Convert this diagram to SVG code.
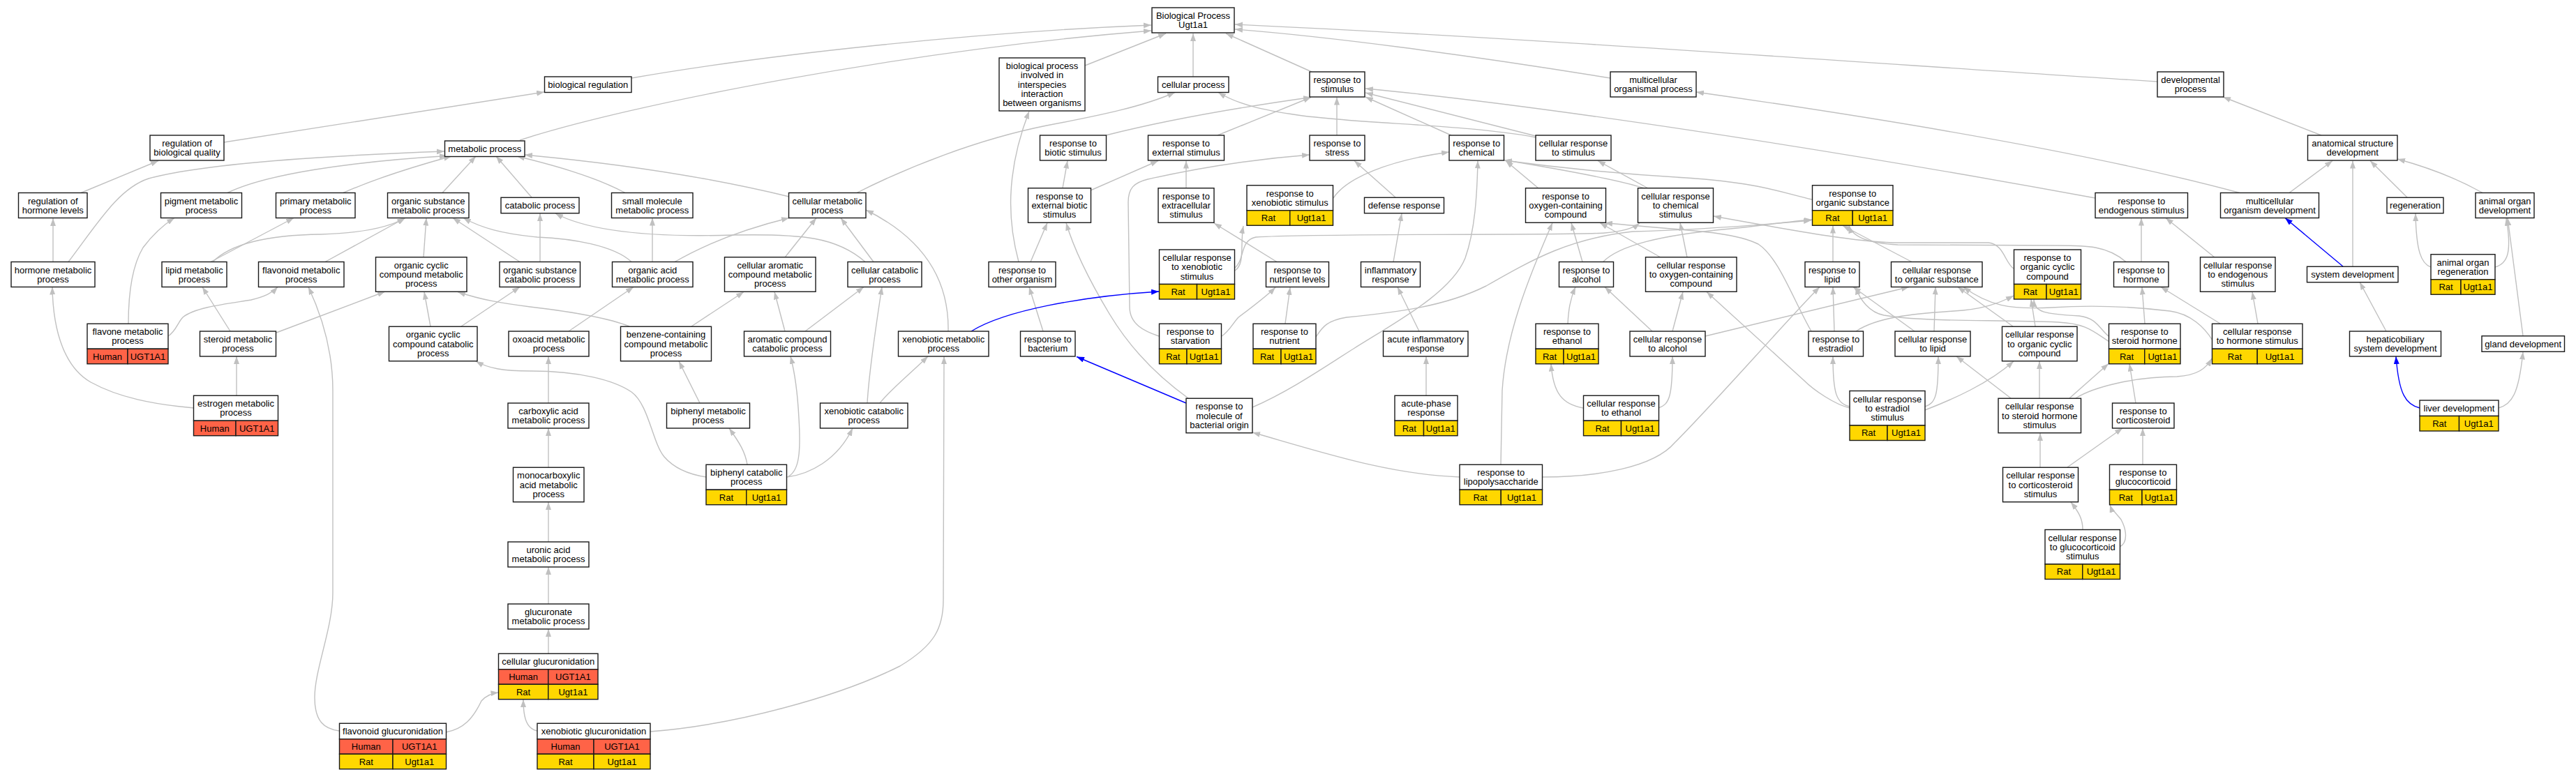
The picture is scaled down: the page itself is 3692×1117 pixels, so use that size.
<svg xmlns="http://www.w3.org/2000/svg" width="3692" height="1117" viewBox="0 0 3692 1117">
<defs>
<marker id="ag" viewBox="0 0 11 8" refX="11" refY="4" markerWidth="11" markerHeight="8" markerUnits="userSpaceOnUse" orient="auto"><path d="M0,0L11,4L0,8z" fill="#c0c0c0"/></marker>
<marker id="ab" viewBox="0 0 11 8" refX="11" refY="4" markerWidth="11" markerHeight="8" markerUnits="userSpaceOnUse" orient="auto"><path d="M0,0L11,4L0,8z" fill="#0000ff"/></marker>
</defs>
<style>
.e{fill:none;stroke:#c0c0c0;stroke-width:1.4;marker-end:url(#ag)}
.b{fill:none;stroke:#0000ff;stroke-width:1.4;marker-end:url(#ab)}
rect{stroke:#1a1a1a;stroke-width:1.4}
.w{fill:#fff}
.h{fill:#ff6347}
.r{fill:#ffd700}
text{font-family:"Liberation Sans",Arial,Helvetica,sans-serif;font-size:13px;text-anchor:middle;fill:#000}
</style>
<rect x="0" y="0" width="3692" height="1117" fill="#fff" style="stroke:none"/>
<g id="connectors">
<path class="e" d="M905,112 C1100,78 1400,46 1650,36"/>
<path class="e" d="M745,201 C900,150 1300,72 1650,44"/>
<path class="e" d="M1555,94 L1671,48"/>
<path class="e" d="M1710,110 L1710,48"/>
<path class="e" d="M1880,103 L1757,48"/>
<path class="e" d="M2308,112 C2100,78 1900,52 1770,42"/>
<path class="e" d="M3092,117 C2700,92 2200,55 1770,35"/>
<path class="e" d="M321,204 L780,132"/>
<path class="e" d="M116,276.5 L227,230.5"/>
<path class="e" d="M76,375.5 L76,313"/>
<path class="e" d="M98,375.5 C140,320 170,270 213,256 C300,232 500,222 637,217"/>
<path class="e" d="M326,276.5 C380,250 500,232 641,223.5"/>
<path class="e" d="M492,276.5 C540,255 600,237 647,224"/>
<path class="e" d="M634,276.5 L682,224"/>
<path class="e" d="M762,283 L711,224"/>
<path class="e" d="M896,276.5 C850,252 790,236 741,224"/>
<path class="e" d="M1131,282 C1000,250 860,232 752,222"/>
<path class="e" d="M1228,276.5 C1300,240 1400,200 1500,180 C1580,165 1640,152 1684,132.5"/>
<path class="e" d="M1585,194 C1680,170 1790,152 1879,139.5"/>
<path class="e" d="M1745,194 C1790,176 1840,155 1879,139.5"/>
<path class="e" d="M1916,194 L1916,139.5"/>
<path class="e" d="M2080,194 L1957,139"/>
<path class="e" d="M2201,195 L1957,133"/>
<path class="e" d="M3003,284 C2600,210 2200,150 1957,127"/>
<path class="e" d="M2201,197 C2100,178 1950,178 1860,165 C1810,158 1775,150 1746,132.5"/>
<path class="e" d="M1911,284 C1930,255 1990,230 2077,218"/>
<path class="e" d="M1795,584 C1850,560 1900,525 1940,500 C2000,462 2080,420 2100,370 C2114,330 2117,280 2118,230.5"/>
<path class="e" d="M1886,483 C1895,470 1900,460 1930,455 C2000,448 2070,440 2130,410 C2200,370 2250,342 2340,332 C2420,330 2530,322 2596,316"/>
<path class="e" d="M1769,385 C1785,372 1776,345 1800,340 C1900,334 2250,338 2300,334 C2325,332 2340,328 2350,320"/>
<path class="e" d="M1770,388 C1785,378 1777,350 1782,324"/>
<path class="e" d="M1830,375.5 L1740,320"/>
<path class="e" d="M1751,482 C1762,475 1768,462 1775,455 C1795,440 1815,425 1828,412"/>
<path class="e" d="M1842,464 L1849,412"/>
<path class="e" d="M1661,482 C1640,475 1619,465 1619,440 L1617,290 C1617,270 1625,262 1645,257 C1720,240 1800,228 1877,222"/>
<path class="e" d="M1523,269.5 L1530,230.5"/>
<path class="e" d="M1563,273 L1660,230.5"/>
<path class="e" d="M1700,269.5 L1700,230.5"/>
<path class="e" d="M1477,375.5 L1501,319.5"/>
<path class="e" d="M1460,375.5 C1445,320 1440,250 1475,159.5"/>
<path class="e" d="M1495,475 L1475,411.5"/>
<path class="b" d="M1700,578 L1543,511.5"/>
<path class="e" d="M1703,571 C1660,540 1620,500 1590,450 C1560,400 1540,360 1528,319.5"/>
<path class="e" d="M2092,684 C1990,680 1900,650 1795,620"/>
<path class="b" d="M1392,475 C1440,445 1550,425 1661,418"/>
<path class="e" d="M2151,666 L2153,560 C2158,480 2190,400 2225,319.5"/>
<path class="e" d="M2211,684 C2290,684 2370,670 2400,635 C2460,575 2560,460 2608,411.5"/>
<path class="e" d="M2044,567 L2044,511"/>
<path class="e" d="M2034,475 L2003,411.5"/>
<path class="e" d="M1997,375.5 L2009,306"/>
<path class="e" d="M2000,283 L1941,230.5"/>
<path class="e" d="M2205,270 L2158,230.5"/>
<path class="e" d="M2357,270 C2320,258 2250,245 2156,229.5"/>
<path class="e" d="M2362,270 L2290,230.5"/>
<path class="e" d="M2597,286 C2550,275 2520,262 2417,255 C2330,250 2230,240 2156,230"/>
<path class="e" d="M2268,375.5 L2252,319.5"/>
<path class="e" d="M2297,376 C2320,352 2380,337 2480,328 C2530,323 2560,318 2597,315"/>
<path class="e" d="M2380,369 L2293,319.5"/>
<path class="e" d="M2418,369 L2408,319.5"/>
<path class="e" d="M2596,475 C2570,430 2550,370 2520,350 C2480,330 2400,330 2300,319.5"/>
<path class="e" d="M2368,475 L2300,411.5"/>
<path class="e" d="M2397,475 L2412,418.5"/>
<path class="e" d="M2444,482 L2736,411.5"/>
<path class="e" d="M2247,464 C2248,445 2250,430 2258,411.5"/>
<path class="e" d="M2269,585 C2240,580 2226,565 2223,521.5"/>
<path class="e" d="M2377,585 C2392,580 2397,570 2397,511"/>
<path class="e" d="M2651,585 C2630,580 2600,560 2585,545 L2446,418.5"/>
<path class="e" d="M2651,583 C2632,578 2627,565 2627,511"/>
<path class="e" d="M2759,583 C2775,578 2778,565 2778,511"/>
<path class="e" d="M2759,588 C2800,572 2850,550 2886,518"/>
<path class="e" d="M2629,475 L2627,411.5"/>
<path class="e" d="M2660,475 C2690,455 2740,450 2800,446 C2840,444 2865,435 2886,424"/>
<path class="e" d="M2744,475 L2656,411.5"/>
<path class="e" d="M2772,475 L2774,411.5"/>
<path class="e" d="M2885,468 L2806,411.5"/>
<path class="e" d="M2917,468 L2911,429"/>
<path class="e" d="M2627,375.5 L2627,323.5"/>
<path class="e" d="M2740,375.5 L2641,323.5"/>
<path class="e" d="M2886,385 C2874,378 2872,350 2850,348 L2713,348 C2660,346 2600,336 2456,310"/>
<path class="e" d="M3069,375.5 L3069,312.5"/>
<path class="e" d="M3047,375.5 C3020,352 2990,352 2950,352 L2720,351 C2680,349 2655,340 2650,323.5"/>
<path class="e" d="M3174,369 L3104,312.5"/>
<path class="e" d="M3236,464 L3228,418.5"/>
<path class="e" d="M3182,464 L3097,411.5"/>
<path class="e" d="M3171,488 C3160,470 3140,450 3110,446 C3060,440 3000,437 2940,441 C2880,444 2850,438 2814,411.5"/>
<path class="e" d="M3074,464 L3070,411.5"/>
<path class="e" d="M3022,482 C3008,470 3005,456 2980,453 C2930,450 2916,448 2915,429.5"/>
<path class="e" d="M3023,490 C3000,475 2990,464 2950,462 C2850,458 2760,462 2700,452 C2680,448 2665,430 2660,411.5"/>
<path class="e" d="M3061,578 L3052,521.5"/>
<path class="e" d="M2966,571 L3022,521.5"/>
<path class="e" d="M2923,571 L2923,518"/>
<path class="e" d="M2882,571 L2804,511"/>
<path class="e" d="M2975,571 C3000,555 3060,540 3120,540 C3150,538 3162,528 3170,514"/>
<path class="e" d="M2924,670 L2924,621"/>
<path class="e" d="M2963,670 L3042,614"/>
<path class="e" d="M3071,666 L3071,614"/>
<path class="e" d="M2985,759 C2985,745 2980,735 2968,720"/>
<path class="e" d="M3038,784 C3050,778 3048,760 3040,745 C3032,735 3026,730 3024,724"/>
<path class="e" d="M3327,194 L3186,139"/>
<path class="e" d="M3281,276.5 L3343,230.5"/>
<path class="e" d="M3210,276.5 C3000,220 2700,170 2431,132"/>
<path class="e" d="M3450,283 L3397,230.5"/>
<path class="e" d="M3558,276.5 C3520,255 3480,240 3436,228"/>
<path class="e" d="M3372,382 L3372,230.5"/>
<path class="b" d="M3358,382 L3275,312.5"/>
<path class="e" d="M3484,383 C3470,378 3463,360 3462,306"/>
<path class="e" d="M3576,383 C3595,378 3600,360 3592,312.5"/>
<path class="e" d="M3420,475 L3382,404.5"/>
<path class="e" d="M3616,481.5 L3594,312.5"/>
<path class="b" d="M3468,585 C3448,580 3438,565 3434,511"/>
<path class="e" d="M3581,585 C3600,580 3610,565 3616,504.5"/>
<path class="e" d="M302,375.5 L421,312.5"/>
<path class="e" d="M305,375.5 C330,350 380,337 460,336 C520,334 560,325 580,312.5"/>
<path class="e" d="M466,375.5 L581,312.5"/>
<path class="e" d="M607,369 L611,312.5"/>
<path class="e" d="M745,375.5 L649,312.5"/>
<path class="e" d="M774,375.5 L774,306"/>
<path class="e" d="M905,375.5 C880,352 820,342 770,340 C720,335 690,327 664,312.5"/>
<path class="e" d="M935,375.5 L935,312.5"/>
<path class="e" d="M967,375.5 C1020,345 1080,325 1131,312.5"/>
<path class="e" d="M1125,369 L1170,312.5"/>
<path class="e" d="M1252,375.5 L1205,312.5"/>
<path class="e" d="M1240,375.5 C1200,340 1150,335 1050,337 C950,340 850,335 796,306"/>
<path class="e" d="M1359,475 C1360,420 1340,350 1241,301"/>
<path class="e" d="M330,475 L290,411.5"/>
<path class="e" d="M396,477 L552,418"/>
<path class="e" d="M617,468 L608,418.5"/>
<path class="e" d="M661,468 L745,411.5"/>
<path class="e" d="M815,475 L908,411.5"/>
<path class="e" d="M902,468 C870,455 820,447 760,440 C720,435 690,430 656,418.5"/>
<path class="e" d="M991,468 L1066,418.5"/>
<path class="e" d="M1125,475 L1110,418.5"/>
<path class="e" d="M1154,475 L1238,411.5"/>
<path class="e" d="M184,464 C184,420 190,380 205,355 C220,335 235,322 250,312.5"/>
<path class="e" d="M241,482 C252,475 255,462 262,455 C280,440 330,435 360,430 C380,425 390,420 398,411.5"/>
<path class="e" d="M278,585 C220,580 170,570 130,548 C95,528 76,480 75,411.5"/>
<path class="e" d="M339,567 L339,511"/>
<path class="e" d="M786,578 L786,511"/>
<path class="e" d="M786,670 L786,614"/>
<path class="e" d="M786,777 L786,720"/>
<path class="e" d="M786,866 L786,813"/>
<path class="e" d="M786,937 L786,902"/>
<path class="e" d="M639,1050 C665,1045 678,1030 690,1005 C697,997 705,994 714.5,993"/>
<path class="e" d="M770,1048 C755,1045 750,1030 750,1003"/>
<path class="e" d="M486,1048 C465,1045 451,1035 451,1000 C451,960 477,900 477,850 L477,560 C477,500 460,450 442,411.5"/>
<path class="e" d="M932,1049 C1050,1040 1200,1000 1290,955 C1340,925 1352,900 1352,860 L1353,511"/>
<path class="e" d="M1003,578 L973,518"/>
<path class="e" d="M1071,666 C1068,648 1060,635 1045,614"/>
<path class="e" d="M1128,684 C1160,680 1200,660 1222,614"/>
<path class="e" d="M1130,683 C1145,675 1148,650 1145,600 C1143,560 1138,530 1133,511"/>
<path class="e" d="M1012,684 C985,680 965,670 952,655 C935,635 930,580 905,562 C880,545 830,532 760,532 C720,532 700,528 682,518"/>
<path class="e" d="M1243,578 C1245,540 1255,470 1264,411.5"/>
<path class="e" d="M1261,578 C1275,560 1300,540 1330,511"/>
</g>
<g id="root"><rect class="w" x="1651" y="11" width="118" height="36"/><text x="1710" y="27">Biological Process</text><text x="1710" y="40.2">Ugt1a1</text></g>
<g id="bioreg"><rect class="w" x="780.5" y="110" width="124.5" height="22.5"/><text x="842.75" y="125.8">biological regulation</text></g>
<g id="interspecies"><rect class="w" x="1432" y="83" width="123" height="76"/><text x="1493.5" y="99.2">biological process</text><text x="1493.5" y="112.4">involved in</text><text x="1493.5" y="125.6">interspecies</text><text x="1493.5" y="138.8">interaction</text><text x="1493.5" y="152">between organisms</text></g>
<g id="cellproc"><rect class="w" x="1659.5" y="110" width="101.5" height="22.5"/><text x="1710.25" y="125.8">cellular process</text></g>
<g id="respstim"><rect class="w" x="1877" y="103" width="79" height="36"/><text x="1916.5" y="119">response to</text><text x="1916.5" y="132.2">stimulus</text></g>
<g id="multiorg"><rect class="w" x="2308" y="103" width="123" height="36"/><text x="2369.5" y="119">multicellular</text><text x="2369.5" y="132.2">organismal process</text></g>
<g id="devproc"><rect class="w" x="3092" y="103" width="95" height="36"/><text x="3139.5" y="119">developmental</text><text x="3139.5" y="132.2">process</text></g>
<g id="regbioq"><rect class="w" x="215" y="194" width="106" height="36"/><text x="268" y="210">regulation of</text><text x="268" y="223.2">biological quality</text></g>
<g id="metab"><rect class="w" x="637.5" y="202" width="114.5" height="22.5"/><text x="694.75" y="217.8">metabolic process</text></g>
<g id="respbiotic"><rect class="w" x="1490.5" y="194" width="95" height="36"/><text x="1538" y="210">response to</text><text x="1538" y="223.2">biotic stimulus</text></g>
<g id="respext"><rect class="w" x="1645.5" y="194" width="109" height="36"/><text x="1700" y="210">response to</text><text x="1700" y="223.2">external stimulus</text></g>
<g id="respstress"><rect class="w" x="1877" y="194" width="79" height="36"/><text x="1916.5" y="210">response to</text><text x="1916.5" y="223.2">stress</text></g>
<g id="respchem"><rect class="w" x="2077" y="194" width="78.5" height="36"/><text x="2116.25" y="210">response to</text><text x="2116.25" y="223.2">chemical</text></g>
<g id="cellrespstim"><rect class="w" x="2201" y="194" width="108" height="36"/><text x="2255" y="210">cellular response</text><text x="2255" y="223.2">to stimulus</text></g>
<g id="anatdev"><rect class="w" x="3307.5" y="194" width="128.5" height="36"/><text x="3371.75" y="210">anatomical structure</text><text x="3371.75" y="223.2">development</text></g>
<g id="reghorm"><rect class="w" x="26.5" y="276.5" width="98.5" height="36"/><text x="75.75" y="292.5">regulation of</text><text x="75.75" y="305.7">hormone levels</text></g>
<g id="pigment"><rect class="w" x="230.5" y="276.5" width="116" height="36"/><text x="288.5" y="292.5">pigment metabolic</text><text x="288.5" y="305.7">process</text></g>
<g id="primary"><rect class="w" x="395.5" y="276.5" width="113.5" height="36"/><text x="452.25" y="292.5">primary metabolic</text><text x="452.25" y="305.7">process</text></g>
<g id="orgsubmet"><rect class="w" x="555.5" y="276.5" width="116.5" height="36"/><text x="613.75" y="292.5">organic substance</text><text x="613.75" y="305.7">metabolic process</text></g>
<g id="catab"><rect class="w" x="718" y="283.25" width="112" height="22.5"/><text x="774" y="299.1">catabolic process</text></g>
<g id="smallmol"><rect class="w" x="876.5" y="276.5" width="116.5" height="36"/><text x="934.75" y="292.5">small molecule</text><text x="934.75" y="305.7">metabolic process</text></g>
<g id="cellmet"><rect class="w" x="1130.5" y="276.5" width="110.5" height="36"/><text x="1185.75" y="292.5">cellular metabolic</text><text x="1185.75" y="305.7">process</text></g>
<g id="respextbiotic"><rect class="w" x="1473.5" y="269.75" width="90" height="49.5"/><text x="1518.5" y="285.9">response to</text><text x="1518.5" y="299.1">external biotic</text><text x="1518.5" y="312.3">stimulus</text></g>
<g id="respextracell"><rect class="w" x="1660" y="269.75" width="80" height="49.5"/><text x="1700" y="285.9">response to</text><text x="1700" y="299.1">extracellular</text><text x="1700" y="312.3">stimulus</text></g>
<g id="respxeno"><rect class="w" x="1787" y="265.75" width="123.5" height="36"/><text x="1848.75" y="281.75">response to</text><text x="1848.75" y="294.95">xenobiotic stimulus</text><rect class="r" x="1787" y="301.75" width="61.75" height="21.5"/><rect class="r" x="1848.75" y="301.75" width="61.75" height="21.5"/><text x="1817.9" y="317.1">Rat</text><text x="1879.6" y="317.1">Ugt1a1</text></g>
<g id="defense"><rect class="w" x="1955.5" y="283.25" width="114" height="22.5"/><text x="2012.5" y="299.1">defense response</text></g>
<g id="respoxy"><rect class="w" x="2186.5" y="269.75" width="115" height="49.5"/><text x="2244" y="285.9">response to</text><text x="2244" y="299.1">oxygen-containing</text><text x="2244" y="312.3">compound</text></g>
<g id="cellrespchem"><rect class="w" x="2347.5" y="269.75" width="108" height="49.5"/><text x="2401.5" y="285.9">cellular response</text><text x="2401.5" y="299.1">to chemical</text><text x="2401.5" y="312.3">stimulus</text></g>
<g id="resporgsub"><rect class="w" x="2597.5" y="265.75" width="115.5" height="36"/><text x="2655.25" y="281.75">response to</text><text x="2655.25" y="294.95">organic substance</text><rect class="r" x="2597.5" y="301.75" width="57.75" height="21.5"/><rect class="r" x="2655.25" y="301.75" width="57.75" height="21.5"/><text x="2626.4" y="317.1">Rat</text><text x="2684.1" y="317.1">Ugt1a1</text></g>
<g id="respendo"><rect class="w" x="3003" y="276.5" width="132.5" height="36"/><text x="3069.25" y="292.5">response to</text><text x="3069.25" y="305.7">endogenous stimulus</text></g>
<g id="multidev"><rect class="w" x="3182.5" y="276.5" width="141" height="36"/><text x="3253" y="292.5">multicellular</text><text x="3253" y="305.7">organism development</text></g>
<g id="regen"><rect class="w" x="3421" y="283.25" width="81" height="22.5"/><text x="3461.5" y="299.1">regeneration</text></g>
<g id="animorgdev"><rect class="w" x="3548" y="276.5" width="84" height="36"/><text x="3590" y="292.5">animal organ</text><text x="3590" y="305.7">development</text></g>
<g id="hormmet"><rect class="w" x="16" y="375.5" width="120" height="36"/><text x="76" y="391.5">hormone metabolic</text><text x="76" y="404.7">process</text></g>
<g id="lipidmet"><rect class="w" x="232" y="375.5" width="93" height="36"/><text x="278.5" y="391.5">lipid metabolic</text><text x="278.5" y="404.7">process</text></g>
<g id="flavmet"><rect class="w" x="370.5" y="375.5" width="122.5" height="36"/><text x="431.75" y="391.5">flavonoid metabolic</text><text x="431.75" y="404.7">process</text></g>
<g id="orgcycmet"><rect class="w" x="538.5" y="368.75" width="130.5" height="49.5"/><text x="603.75" y="384.9">organic cyclic</text><text x="603.75" y="398.1">compound metabolic</text><text x="603.75" y="411.3">process</text></g>
<g id="orgsubcat"><rect class="w" x="716" y="375.5" width="115.5" height="36"/><text x="773.75" y="391.5">organic substance</text><text x="773.75" y="404.7">catabolic process</text></g>
<g id="orgacid"><rect class="w" x="877.5" y="375.5" width="115.5" height="36"/><text x="935.25" y="391.5">organic acid</text><text x="935.25" y="404.7">metabolic process</text></g>
<g id="cellarom"><rect class="w" x="1038.5" y="368.75" width="130.5" height="49.5"/><text x="1103.75" y="384.9">cellular aromatic</text><text x="1103.75" y="398.1">compound metabolic</text><text x="1103.75" y="411.3">process</text></g>
<g id="cellcat"><rect class="w" x="1215" y="375.5" width="106" height="36"/><text x="1268" y="391.5">cellular catabolic</text><text x="1268" y="404.7">process</text></g>
<g id="respother"><rect class="w" x="1417" y="375.5" width="96" height="36"/><text x="1465" y="391.5">response to</text><text x="1465" y="404.7">other organism</text></g>
<g id="cellrespxeno"><rect class="w" x="1661.5" y="358" width="108" height="49.5"/><text x="1715.5" y="374.15">cellular response</text><text x="1715.5" y="387.35">to xenobiotic</text><text x="1715.5" y="400.55">stimulus</text><rect class="r" x="1661.5" y="407.5" width="54" height="21.5"/><rect class="r" x="1715.5" y="407.5" width="54" height="21.5"/><text x="1688.5" y="422.85">Rat</text><text x="1742.5" y="422.85">Ugt1a1</text></g>
<g id="respnutlev"><rect class="w" x="1814.5" y="375.5" width="90" height="36"/><text x="1859.5" y="391.5">response to</text><text x="1859.5" y="404.7">nutrient levels</text></g>
<g id="inflam"><rect class="w" x="1950.5" y="375.5" width="85" height="36"/><text x="1993" y="391.5">inflammatory</text><text x="1993" y="404.7">response</text></g>
<g id="respalc"><rect class="w" x="2234.5" y="375.5" width="78" height="36"/><text x="2273.5" y="391.5">response to</text><text x="2273.5" y="404.7">alcohol</text></g>
<g id="cellrespoxy"><rect class="w" x="2358.5" y="368.75" width="130.5" height="49.5"/><text x="2423.75" y="384.9">cellular response</text><text x="2423.75" y="398.1">to oxygen-containing</text><text x="2423.75" y="411.3">compound</text></g>
<g id="resplipid"><rect class="w" x="2587" y="375.5" width="78" height="36"/><text x="2626" y="391.5">response to</text><text x="2626" y="404.7">lipid</text></g>
<g id="cellresporgsub"><rect class="w" x="2710.5" y="375.5" width="130.5" height="36"/><text x="2775.75" y="391.5">cellular response</text><text x="2775.75" y="404.7">to organic substance</text></g>
<g id="resporgcyc"><rect class="w" x="2886.5" y="358" width="96" height="49.5"/><text x="2934.5" y="374.15">response to</text><text x="2934.5" y="387.35">organic cyclic</text><text x="2934.5" y="400.55">compound</text><rect class="r" x="2886.5" y="407.5" width="46.5" height="21.5"/><rect class="r" x="2933" y="407.5" width="49.5" height="21.5"/><text x="2909.75" y="422.85">Rat</text><text x="2957.75" y="422.85">Ugt1a1</text></g>
<g id="resphorm"><rect class="w" x="3029.5" y="375.5" width="78.5" height="36"/><text x="3068.75" y="391.5">response to</text><text x="3068.75" y="404.7">hormone</text></g>
<g id="cellrespendo"><rect class="w" x="3153.5" y="368.75" width="107.5" height="49.5"/><text x="3207.25" y="384.9">cellular response</text><text x="3207.25" y="398.1">to endogenous</text><text x="3207.25" y="411.3">stimulus</text></g>
<g id="sysdev"><rect class="w" x="3306.5" y="382.25" width="130.5" height="22.5"/><text x="3371.75" y="398.1">system development</text></g>
<g id="animorgregen"><rect class="w" x="3484" y="364.75" width="92" height="36"/><text x="3530" y="380.75">animal organ</text><text x="3530" y="393.95">regeneration</text><rect class="r" x="3484" y="400.75" width="43" height="21.5"/><rect class="r" x="3527" y="400.75" width="49" height="21.5"/><text x="3505.5" y="416.1">Rat</text><text x="3551.5" y="416.1">Ugt1a1</text></g>
<g id="flavone"><rect class="w" x="125" y="464.25" width="116" height="36"/><text x="183" y="480.25">flavone metabolic</text><text x="183" y="493.45">process</text><rect class="h" x="125" y="500.25" width="58" height="21.5"/><rect class="h" x="183" y="500.25" width="58" height="21.5"/><text x="154" y="515.6">Human</text><text x="212" y="515.6">UGT1A1</text></g>
<g id="steroid"><rect class="w" x="286.5" y="475" width="109" height="36"/><text x="341" y="491">steroid metabolic</text><text x="341" y="504.2">process</text></g>
<g id="orgcyccat"><rect class="w" x="557.5" y="468.25" width="126.5" height="49.5"/><text x="620.75" y="484.4">organic cyclic</text><text x="620.75" y="497.6">compound catabolic</text><text x="620.75" y="510.8">process</text></g>
<g id="oxoacid"><rect class="w" x="729" y="475" width="115" height="36"/><text x="786.5" y="491">oxoacid metabolic</text><text x="786.5" y="504.2">process</text></g>
<g id="benzene"><rect class="w" x="889.5" y="468.25" width="130" height="49.5"/><text x="954.5" y="484.4">benzene-containing</text><text x="954.5" y="497.6">compound metabolic</text><text x="954.5" y="510.8">process</text></g>
<g id="aromcat"><rect class="w" x="1066.5" y="475" width="124" height="36"/><text x="1128.5" y="491">aromatic compound</text><text x="1128.5" y="504.2">catabolic process</text></g>
<g id="xenomet"><rect class="w" x="1287.5" y="475" width="129.5" height="36"/><text x="1352.25" y="491">xenobiotic metabolic</text><text x="1352.25" y="504.2">process</text></g>
<g id="respbact"><rect class="w" x="1462.5" y="475" width="78.5" height="36"/><text x="1501.75" y="491">response to</text><text x="1501.75" y="504.2">bacterium</text></g>
<g id="respstarv"><rect class="w" x="1661.5" y="464.25" width="89" height="36"/><text x="1706" y="480.25">response to</text><text x="1706" y="493.45">starvation</text><rect class="r" x="1661.5" y="500.25" width="39.5" height="21.5"/><rect class="r" x="1701" y="500.25" width="49.5" height="21.5"/><text x="1681.25" y="515.6">Rat</text><text x="1725.75" y="515.6">Ugt1a1</text></g>
<g id="respnut"><rect class="w" x="1796" y="464.25" width="90" height="36"/><text x="1841" y="480.25">response to</text><text x="1841" y="493.45">nutrient</text><rect class="r" x="1796" y="500.25" width="40" height="21.5"/><rect class="r" x="1836" y="500.25" width="50" height="21.5"/><text x="1816" y="515.6">Rat</text><text x="1861" y="515.6">Ugt1a1</text></g>
<g id="acuteinflam"><rect class="w" x="1982.5" y="475" width="121.5" height="36"/><text x="2043.25" y="491">acute inflammatory</text><text x="2043.25" y="504.2">response</text></g>
<g id="respethanol"><rect class="w" x="2201" y="464.25" width="90" height="36"/><text x="2246" y="480.25">response to</text><text x="2246" y="493.45">ethanol</text><rect class="r" x="2201" y="500.25" width="40" height="21.5"/><rect class="r" x="2241" y="500.25" width="50" height="21.5"/><text x="2221" y="515.6">Rat</text><text x="2266" y="515.6">Ugt1a1</text></g>
<g id="cellrespalc"><rect class="w" x="2336" y="475" width="108" height="36"/><text x="2390" y="491">cellular response</text><text x="2390" y="504.2">to alcohol</text></g>
<g id="respestradiol"><rect class="w" x="2592" y="475" width="78.5" height="36"/><text x="2631.25" y="491">response to</text><text x="2631.25" y="504.2">estradiol</text></g>
<g id="cellresplipid"><rect class="w" x="2716" y="475" width="108" height="36"/><text x="2770" y="491">cellular response</text><text x="2770" y="504.2">to lipid</text></g>
<g id="cellresporgcyc"><rect class="w" x="2869.5" y="468.25" width="107.5" height="49.5"/><text x="2923.25" y="484.4">cellular response</text><text x="2923.25" y="497.6">to organic cyclic</text><text x="2923.25" y="510.8">compound</text></g>
<g id="respsteroid"><rect class="w" x="3022.5" y="464.25" width="102.5" height="36"/><text x="3073.75" y="480.25">response to</text><text x="3073.75" y="493.45">steroid hormone</text><rect class="r" x="3022.5" y="500.25" width="51.25" height="21.5"/><rect class="r" x="3073.75" y="500.25" width="51.25" height="21.5"/><text x="3048.1" y="515.6">Rat</text><text x="3099.4" y="515.6">Ugt1a1</text></g>
<g id="cellresphorm"><rect class="w" x="3170.5" y="464.25" width="129.5" height="36"/><text x="3235.25" y="480.25">cellular response</text><text x="3235.25" y="493.45">to hormone stimulus</text><rect class="r" x="3170.5" y="500.25" width="64.75" height="21.5"/><rect class="r" x="3235.25" y="500.25" width="64.75" height="21.5"/><text x="3202.9" y="515.6">Rat</text><text x="3267.6" y="515.6">Ugt1a1</text></g>
<g id="hepato"><rect class="w" x="3367.5" y="475" width="131" height="36"/><text x="3433" y="491">hepaticobiliary</text><text x="3433" y="504.2">system development</text></g>
<g id="glanddev"><rect class="w" x="3557" y="481.75" width="118.5" height="22.5"/><text x="3616.25" y="497.6">gland development</text></g>
<g id="estrogen"><rect class="w" x="277.5" y="567.25" width="121" height="36"/><text x="338" y="583.25">estrogen metabolic</text><text x="338" y="596.45">process</text><rect class="h" x="277.5" y="603.25" width="60.5" height="21.5"/><rect class="h" x="338" y="603.25" width="60.5" height="21.5"/><text x="307.75" y="618.6">Human</text><text x="368.25" y="618.6">UGT1A1</text></g>
<g id="carbox"><rect class="w" x="728" y="578" width="116" height="36"/><text x="786" y="594">carboxylic acid</text><text x="786" y="607.2">metabolic process</text></g>
<g id="biphenylmet"><rect class="w" x="955.5" y="578" width="119" height="36"/><text x="1015" y="594">biphenyl metabolic</text><text x="1015" y="607.2">process</text></g>
<g id="xenocat"><rect class="w" x="1175.5" y="578" width="125.5" height="36"/><text x="1238.25" y="594">xenobiotic catabolic</text><text x="1238.25" y="607.2">process</text></g>
<g id="molbact"><rect class="w" x="1700" y="571.25" width="95" height="49.5"/><text x="1747.5" y="587.4">response to</text><text x="1747.5" y="600.6">molecule of</text><text x="1747.5" y="613.8">bacterial origin</text></g>
<g id="acutephase"><rect class="w" x="1999" y="567.25" width="90" height="36"/><text x="2044" y="583.25">acute-phase</text><text x="2044" y="596.45">response</text><rect class="r" x="1999" y="603.25" width="41.5" height="21.5"/><rect class="r" x="2040.5" y="603.25" width="48.5" height="21.5"/><text x="2019.75" y="618.6">Rat</text><text x="2064.75" y="618.6">Ugt1a1</text></g>
<g id="cellrespethanol"><rect class="w" x="2269.5" y="567.25" width="108" height="36"/><text x="2323.5" y="583.25">cellular response</text><text x="2323.5" y="596.45">to ethanol</text><rect class="r" x="2269.5" y="603.25" width="54" height="21.5"/><rect class="r" x="2323.5" y="603.25" width="54" height="21.5"/><text x="2296.5" y="618.6">Rat</text><text x="2350.5" y="618.6">Ugt1a1</text></g>
<g id="cellrespestradiol"><rect class="w" x="2651" y="560.5" width="108" height="49.5"/><text x="2705" y="576.65">cellular response</text><text x="2705" y="589.85">to estradiol</text><text x="2705" y="603.05">stimulus</text><rect class="r" x="2651" y="610" width="54" height="21.5"/><rect class="r" x="2705" y="610" width="54" height="21.5"/><text x="2678" y="625.35">Rat</text><text x="2732" y="625.35">Ugt1a1</text></g>
<g id="cellrespsteroid"><rect class="w" x="2864" y="571.25" width="118.5" height="49.5"/><text x="2923.25" y="587.4">cellular response</text><text x="2923.25" y="600.6">to steroid hormone</text><text x="2923.25" y="613.8">stimulus</text></g>
<g id="respcortico"><rect class="w" x="3027.5" y="578" width="88.5" height="36"/><text x="3071.75" y="594">response to</text><text x="3071.75" y="607.2">corticosteroid</text></g>
<g id="liverdev"><rect class="w" x="3468" y="574" width="113" height="22.5"/><text x="3524.5" y="589.85">liver development</text><rect class="r" x="3468" y="596.5" width="56.5" height="21.5"/><rect class="r" x="3524.5" y="596.5" width="56.5" height="21.5"/><text x="3496.25" y="611.85">Rat</text><text x="3552.75" y="611.85">Ugt1a1</text></g>
<g id="monocarb"><rect class="w" x="735.5" y="670.25" width="101.5" height="49.5"/><text x="786.25" y="686.4">monocarboxylic</text><text x="786.25" y="699.6">acid metabolic</text><text x="786.25" y="712.8">process</text></g>
<g id="biphenylcat"><rect class="w" x="1012" y="666.25" width="115.5" height="36"/><text x="1069.75" y="682.25">biphenyl catabolic</text><text x="1069.75" y="695.45">process</text><rect class="r" x="1012" y="702.25" width="57.75" height="21.5"/><rect class="r" x="1069.75" y="702.25" width="57.75" height="21.5"/><text x="1040.9" y="717.6">Rat</text><text x="1098.6" y="717.6">Ugt1a1</text></g>
<g id="lps"><rect class="w" x="2092" y="666.25" width="118.5" height="36"/><text x="2151.25" y="682.25">response to</text><text x="2151.25" y="695.45">lipopolysaccharide</text><rect class="r" x="2092" y="702.25" width="59.25" height="21.5"/><rect class="r" x="2151.25" y="702.25" width="59.25" height="21.5"/><text x="2121.6" y="717.6">Rat</text><text x="2180.9" y="717.6">Ugt1a1</text></g>
<g id="cellrespcortico"><rect class="w" x="2870.5" y="670.25" width="108" height="49.5"/><text x="2924.5" y="686.4">cellular response</text><text x="2924.5" y="699.6">to corticosteroid</text><text x="2924.5" y="712.8">stimulus</text></g>
<g id="respgluco"><rect class="w" x="3023.5" y="666.25" width="96" height="36"/><text x="3071.5" y="682.25">response to</text><text x="3071.5" y="695.45">glucocorticoid</text><rect class="r" x="3023.5" y="702.25" width="46.5" height="21.5"/><rect class="r" x="3070" y="702.25" width="49.5" height="21.5"/><text x="3046.75" y="717.6">Rat</text><text x="3094.75" y="717.6">Ugt1a1</text></g>
<g id="uronic"><rect class="w" x="728" y="777" width="116" height="36"/><text x="786" y="793">uronic acid</text><text x="786" y="806.2">metabolic process</text></g>
<g id="cellrespgluco"><rect class="w" x="2931" y="759.5" width="107.5" height="49.5"/><text x="2984.75" y="775.65">cellular response</text><text x="2984.75" y="788.85">to glucocorticoid</text><text x="2984.75" y="802.05">stimulus</text><rect class="r" x="2931" y="809" width="53.75" height="21.5"/><rect class="r" x="2984.75" y="809" width="53.75" height="21.5"/><text x="2957.9" y="824.35">Rat</text><text x="3011.6" y="824.35">Ugt1a1</text></g>
<g id="glucuronate"><rect class="w" x="728" y="866" width="116" height="36"/><text x="786" y="882">glucuronate</text><text x="786" y="895.2">metabolic process</text></g>
<g id="cellgluc"><rect class="w" x="714.5" y="937.25" width="142.5" height="22.5"/><text x="785.75" y="953.1">cellular glucuronidation</text><rect class="h" x="714.5" y="959.75" width="71.25" height="21.5"/><rect class="h" x="785.75" y="959.75" width="71.25" height="21.5"/><text x="750.1" y="975.1">Human</text><text x="821.4" y="975.1">UGT1A1</text><rect class="r" x="714.5" y="981.25" width="71.25" height="21.5"/><rect class="r" x="785.75" y="981.25" width="71.25" height="21.5"/><text x="750.1" y="996.6">Rat</text><text x="821.4" y="996.6">Ugt1a1</text></g>
<g id="flavgluc"><rect class="w" x="486.5" y="1037.25" width="153" height="22.5"/><text x="563" y="1053.1">flavonoid glucuronidation</text><rect class="h" x="486.5" y="1059.75" width="76.5" height="21.5"/><rect class="h" x="563" y="1059.75" width="76.5" height="21.5"/><text x="524.75" y="1075.1">Human</text><text x="601.25" y="1075.1">UGT1A1</text><rect class="r" x="486.5" y="1081.25" width="76.5" height="21.5"/><rect class="r" x="563" y="1081.25" width="76.5" height="21.5"/><text x="524.75" y="1096.6">Rat</text><text x="601.25" y="1096.6">Ugt1a1</text></g>
<g id="xenogluc"><rect class="w" x="770" y="1037.25" width="162" height="22.5"/><text x="851" y="1053.1">xenobiotic glucuronidation</text><rect class="h" x="770" y="1059.75" width="81" height="21.5"/><rect class="h" x="851" y="1059.75" width="81" height="21.5"/><text x="810.5" y="1075.1">Human</text><text x="891.5" y="1075.1">UGT1A1</text><rect class="r" x="770" y="1081.25" width="81" height="21.5"/><rect class="r" x="851" y="1081.25" width="81" height="21.5"/><text x="810.5" y="1096.6">Rat</text><text x="891.5" y="1096.6">Ugt1a1</text></g>
</svg>
